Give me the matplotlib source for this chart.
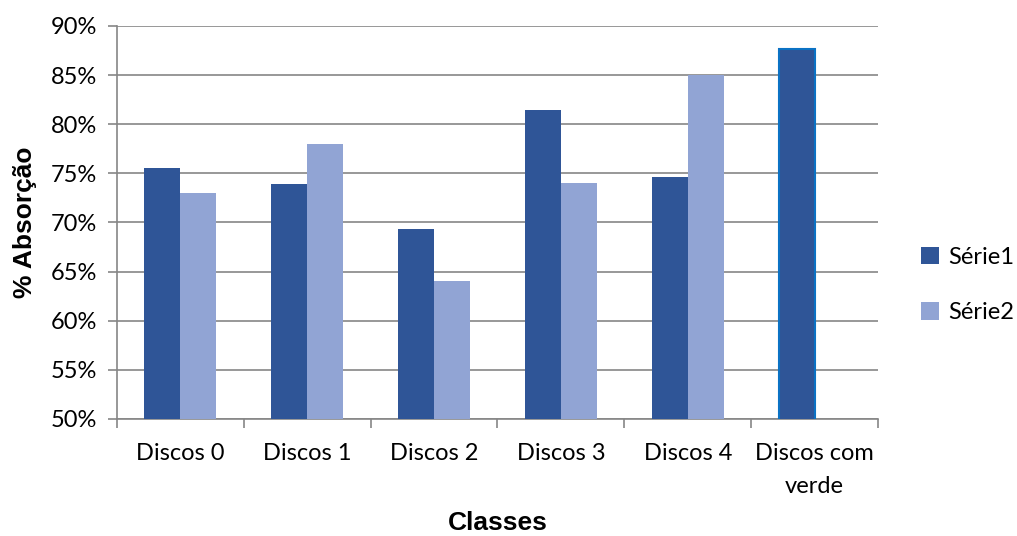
import numpy as np
import matplotlib
matplotlib.use("Agg")
import matplotlib.pyplot as plt

categories = ["Discos 0", "Discos 1", "Discos 2", "Discos 3", "Discos 4", "Discos com\nverde"]
serie1 = [75.5, 73.9, 69.35, 81.4, 74.6, 87.7]
serie2 = [73.0, 78.0, 64.0, 74.0, 85.0, None]
series_names = ["Série1", "Série2"]

dark_blue = "#2F5597"
light_blue = "#91A4D4"
grid_gray = "#868686"
tick_font = "Lato"
tick_size = 17

fig = plt.figure(figsize=(10.17, 5.36), dpi=100)
ax = fig.add_axes([0.1150, 0.2183, 0.8633 - 0.1150, 0.9515 - 0.2183])

x = np.arange(len(categories))
w = 0.284

# Série1 bars; the last category gets a bright blue outline
b1 = ax.bar(x - w / 2, serie1, width=w, color=dark_blue, label=series_names[0], zorder=3)
b1[-1].set_edgecolor("#0B72C4")
b1[-1].set_linewidth(1.5)

# Série2 bars (missing value in the last category)
x2 = [xi + w / 2 for xi, v in zip(x, serie2) if v is not None]
v2 = [v for v in serie2 if v is not None]
ax.bar(x2, v2, width=w, color=light_blue, label=series_names[1], zorder=3)

ax.set_ylim(50, 90)
ax.set_xlim(-0.5, len(categories) - 0.5)

yt = np.arange(50, 91, 5)
ax.set_yticks(yt)
ax.set_yticklabels([f"{v}%" for v in yt], fontsize=tick_size, family=tick_font)
ax.yaxis.grid(True, color=grid_gray, linewidth=1.2, zorder=0)

# category boundaries carry the tick marks, centres carry the labels
ax.set_xticks(np.arange(-0.5, len(categories), 1.0))
ax.set_xticklabels([])
ax.set_xticks(x, minor=True)
ax.set_xticklabels(categories, minor=True, fontsize=tick_size, family=tick_font, linespacing=1.75)
ax.tick_params(axis="x", which="minor", length=0, pad=17)
ax.tick_params(axis="x", which="major", length=6.5, color=grid_gray, width=1.2)
ax.tick_params(axis="y", length=6.5, color=grid_gray, width=1.2, pad=8)

for side in ["top", "right"]:
    ax.spines[side].set_visible(False)
for side in ["left", "bottom"]:
    ax.spines[side].set_color(grid_gray)
    ax.spines[side].set_linewidth(1.2)

ax.set_ylabel("% Absorção", fontsize=19, fontweight="bold", family="Liberation Sans", labelpad=10)
ax.set_xlabel("Classes", fontsize=19, fontweight="bold", family="Liberation Sans",
              va="center")
ax.xaxis.set_label_coords(0.5, -0.265)

handles, labels = ax.get_legend_handles_labels()
fig.legend(handles, labels, loc="center left", bbox_to_anchor=(0.906, 0.468),
           borderaxespad=0, borderpad=0, frameon=False,
           prop={"family": tick_font, "size": tick_size}, handlelength=0.75, handleheight=0.75,
           handletextpad=0.4, labelspacing=1.45)

fig.savefig("out.png", dpi=100)
